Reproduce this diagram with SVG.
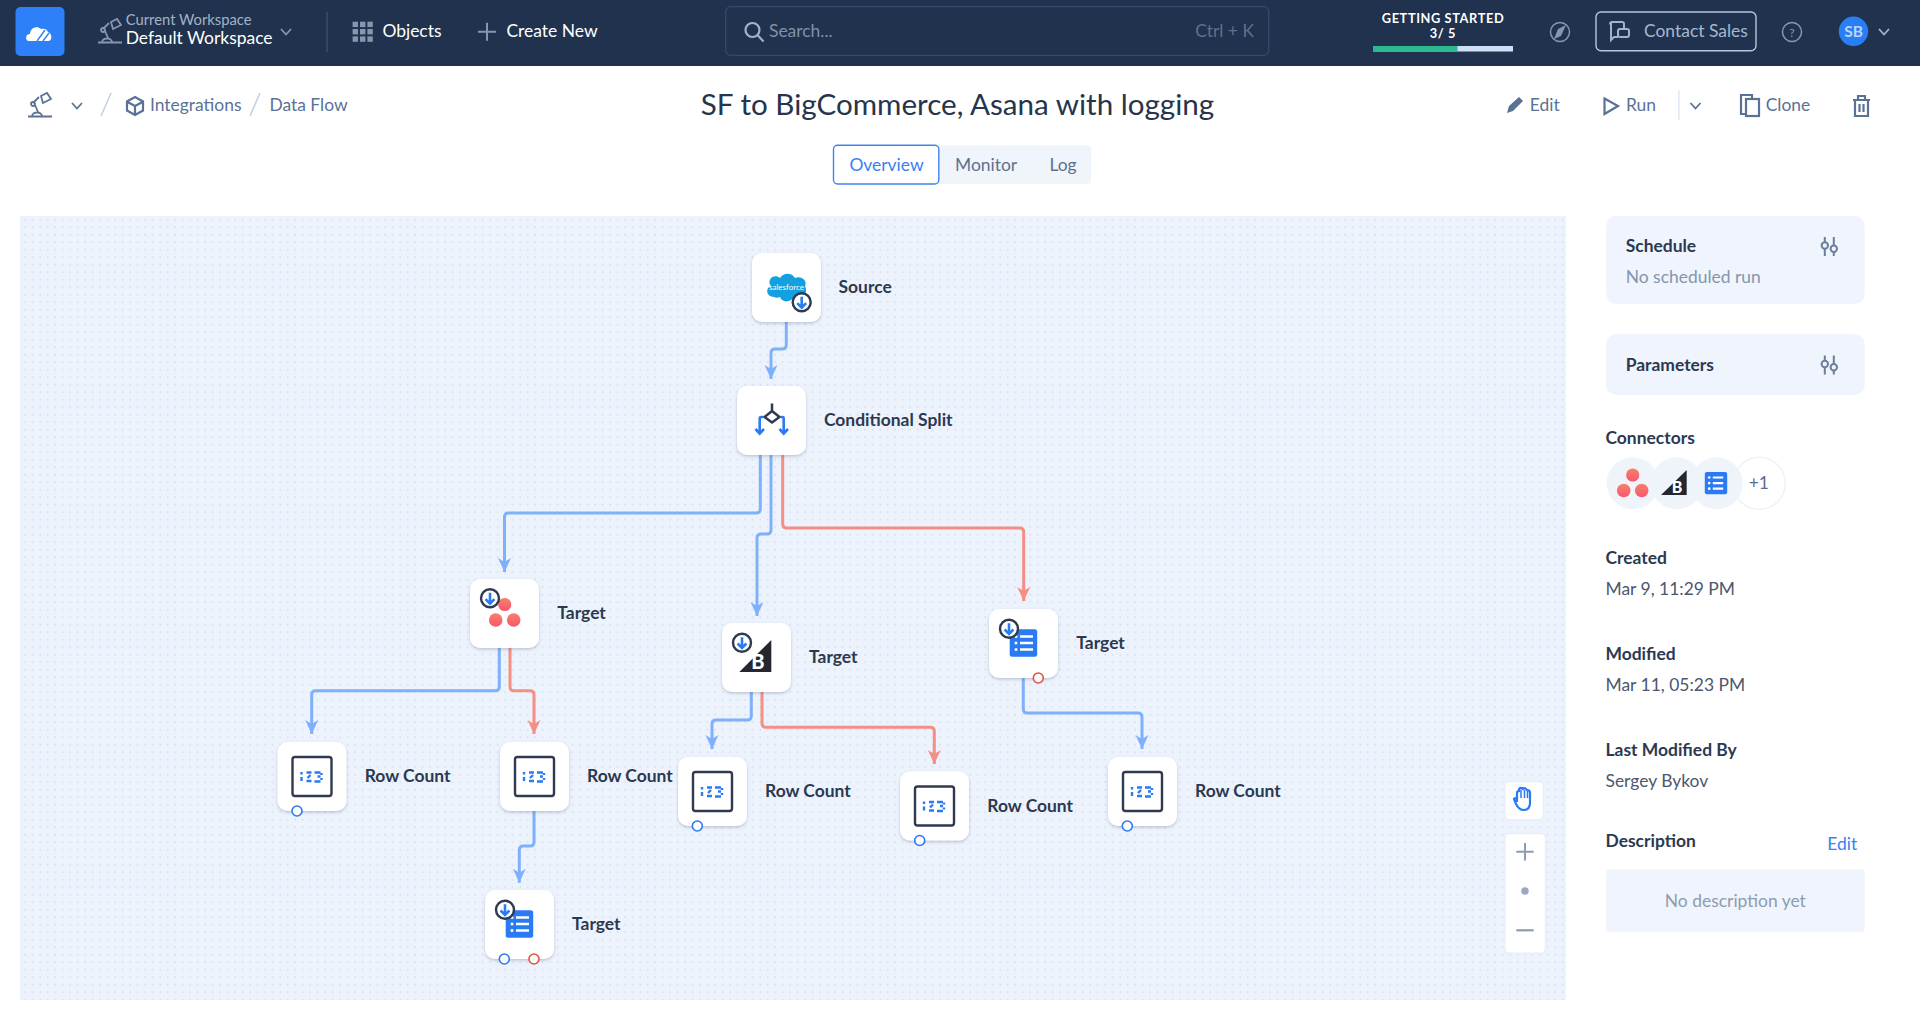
<svg xmlns="http://www.w3.org/2000/svg" xmlns:xlink="http://www.w3.org/1999/xlink" width="1920" height="1009" viewBox="0 0 1920 1009">
<style>
text{font-family:Lato,"Noto Sans","Liberation Sans",sans-serif;font-size:17.45px}
.lab{fill:#2b3950;font-weight:700;font-size:17.45px}
.head{fill:#2b3950;font-weight:700;font-size:17.45px}
.val{fill:#4a5870;font-size:17.45px}
.nav{fill:#ffffff}
.crumb{fill:#5a7296}
.card{fill:#fff;filter:url(#sh)}
.wire{fill:none;stroke-width:3;stroke-linejoin:round}
.b{stroke:#7fb0fb;marker-end:url(#ab)}
.r{stroke:#f58e85;marker-end:url(#ar)}
.pb{fill:#fff;stroke:#2a7af3;stroke-width:1.6}
.pr{fill:#fff;stroke:#e2533f;stroke-width:1.6}
.ic{fill:none;stroke:#5a7296;stroke-width:2.2}
.icn{fill:none;stroke:#8796ad;stroke-width:2.2}
.panel{fill:#eff4fd}
</style>
<defs>
<pattern id="dots" width="7.5" height="7.5" patternUnits="userSpaceOnUse" x="23" y="216"><rect x="1.5" y="3" width="1.3" height="1.3" fill="#c8d2e2"/></pattern>
<filter id="sh" x="-20%" y="-20%" width="140%" height="140%"><feDropShadow dx="0" dy="1.5" stdDeviation="1.6" flood-color="#5a6b85" flood-opacity="0.35"/></filter>
<marker id="ab" markerUnits="userSpaceOnUse" markerWidth="15" markerHeight="14" refX="14" refY="7" orient="auto"><path d="M0,0.5 L14,7 L0,13.5 L4,7Z" fill="#7fb0fb"/></marker>
<marker id="ar" markerUnits="userSpaceOnUse" markerWidth="15" markerHeight="14" refX="14" refY="7" orient="auto"><path d="M0,0.5 L14,7 L0,13.5 L4,7Z" fill="#f58e85"/></marker>
<linearGradient id="as" x1="0" y1="1" x2="0" y2="0"><stop offset="0" stop-color="#f9566c"/><stop offset="1" stop-color="#f8806c"/></linearGradient>
<g id="badge"><circle r="9" fill="#fff" stroke="#2e3a50" stroke-width="2.4"/><path d="M0,-5.5V5M-4.4,0.8L0,5.3L4.4,0.8" fill="none" stroke="#2a7af3" stroke-width="2.6"/></g>
<g id="count"><rect x="15" y="15" width="39" height="39" rx="2.5" fill="#fff" stroke="#2e3a50" stroke-width="2.4"/><path d="M24,30v2.5M24,35v4M29,30.5h5M33,33l-3,3M29,39h5M37,30.5h6M40,34.5h3M37,39.5h6M44,31v2M44,36v2" fill="none" stroke="#2a7af3" stroke-width="2.4"/></g>
<g id="sheets"><rect x="20.7" y="20.3" width="27.5" height="27.5" rx="2.5" fill="#2a7af3"/><path d="M31,27.5h13M31,34h13M31,40.5h13" stroke="#fff" stroke-width="2.6"/><circle cx="27" cy="27.5" r="1.5" fill="#fff"/><circle cx="27" cy="34" r="1.5" fill="#fff"/><circle cx="27" cy="40.5" r="1.5" fill="#fff"/></g>
<g id="asana"><circle cx="0" cy="-8" r="6.6" fill="url(#as)"/><circle cx="-9" cy="7.5" r="6.8" fill="url(#as)"/><circle cx="9" cy="7.5" r="6.8" fill="url(#as)"/></g>
<path id="chev" d="M-5,-3L0,2.5L5,-3" fill="none" stroke-width="1.8"/>
<path id="sliders" d="M-4.5,-9.5V-4M-4.5,2.5V9.5M4.5,-9.5V-1M4.5,5.5V9.5" fill="none" stroke="#6c7f9a" stroke-width="2"/>
<g id="sl"><use href="#sliders"/><circle cx="-4.5" cy="-1" r="3.2" fill="none" stroke="#6c7f9a" stroke-width="2"/><circle cx="4.5" cy="2.2" r="3.2" fill="none" stroke="#6c7f9a" stroke-width="2"/></g>
<g id="lamp" fill="none" stroke-width="1.8"><path d="M0,23.5H24M4,23.5c0,-3 3,-4 5,-4s5,1 5,4M7,12L10,19M5,10L11,4M13,3L19,0L23,6L15,10Z"/><circle cx="5" cy="11" r="2"/></g>
</defs>

<rect id="page" width="1920" height="1009" fill="#fff"/>
<g id="topbar">
<rect width="1920" height="66" fill="#20324d"/>
<rect x="15.5" y="7" width="49" height="49" rx="5" fill="#2d80f8"/>
<path d="M29,41c-4,0 -4,-7 1,-7c0,-6 7,-9 11,-5c3,-1 6,0 7,3c4,1 5,9 0,9Z" fill="#fff"/>
<path d="M37,41L45,30M43,41L49,33" stroke="#2d80f8" stroke-width="1.4"/>
<use href="#lamp" x="98" y="19" stroke="#8796ad"/>
<text x="125.7" y="25" fill="#a3b3c9" style="font-size:14.8px">Current Workspace</text>
<text x="125.7" y="44" class="nav">Default Workspace</text>
<use href="#chev" x="286" y="32" stroke="#8796ad"/>
<rect x="326.5" y="12" width="1.2" height="40" fill="#3f5270"/>
<g fill="#8796ad"><rect x="352.6" y="21.7" width="5.4" height="5.4"/><rect x="360" y="21.7" width="5.4" height="5.4"/><rect x="367.4" y="21.7" width="5.4" height="5.4"/><rect x="352.6" y="29" width="5.4" height="5.4"/><rect x="360" y="29" width="5.4" height="5.4"/><rect x="367.4" y="29" width="5.4" height="5.4"/><rect x="352.6" y="36.4" width="5.4" height="5.4"/><rect x="360" y="36.4" width="5.4" height="5.4"/><rect x="367.4" y="36.4" width="5.4" height="5.4"/></g>
<text x="382.4" y="36.7" class="nav">Objects</text>
<path d="M478,31.7H496M487,22.7V40.7" stroke="#8796ad" stroke-width="2"/>
<text x="506.5" y="36.7" class="nav">Create New</text>
<rect x="725.7" y="6.7" width="543" height="48.6" rx="5" fill="none" stroke="#36496a" stroke-width="1.3"/>
<circle cx="752.5" cy="30" r="7" fill="none" stroke="#a3b3c9" stroke-width="2.2"/><path d="M757.5,35L763.5,41.5" stroke="#a3b3c9" stroke-width="2.2"/>
<text x="769" y="36.7" fill="#7f90a8">Search...</text>
<text x="1254" y="36.7" fill="#5e708c" text-anchor="end">Ctrl + K</text>
<text x="1443" y="23" fill="#fff" text-anchor="middle" font-weight="700" style="font-size:12.8px;letter-spacing:.6px">GETTING STARTED</text>
<text x="1443" y="38" fill="#fff" text-anchor="middle" font-weight="700" style="font-size:12.8px;letter-spacing:.6px">3/ 5</text>
<rect x="1373" y="46" width="140" height="5.5" fill="#cfe0f6"/><rect x="1373" y="46" width="84.5" height="5.5" fill="#2eb88f"/>
<circle cx="1560" cy="32" r="9.5" fill="none" stroke="#8796ad" stroke-width="1.5"/><path d="M1566,25L1561,36L1554,39L1558,29Z" fill="#8796ad"/>
<rect x="1596" y="12" width="160" height="38.7" rx="5" fill="none" stroke="#b5c6de" stroke-width="1.4"/>
<path d="M1611,22H1622Q1624,22 1624,24V28M1618,37H1614L1611,40V24Q1609,24 1611,22" fill="none" stroke="#a3b3c9" stroke-width="2"/><rect x="1618" y="29" width="11" height="8" rx="2" fill="none" stroke="#a3b3c9" stroke-width="2"/>
<text x="1644" y="36.7" fill="#a6b8d0">Contact Sales</text>
<circle cx="1792" cy="32" r="9.5" fill="none" stroke="#8796ad" stroke-width="1.5"/><text x="1792" y="36.5" fill="#8796ad" text-anchor="middle" style="font-size:12px">?</text>
<circle cx="1853.5" cy="31.3" r="14.7" fill="#2a7ef5"/><text x="1853.5" y="37" fill="#b9d5fb" text-anchor="middle" font-weight="700" style="font-size:15.5px">SB</text>
<use href="#chev" x="1884" y="32" stroke="#a3b3c9"/>
</g>

<g id="breadcrumb">
<use href="#lamp" x="28" y="93" stroke="#5a7296"/>
<use href="#chev" x="77" y="106" stroke="#5a7296"/>
<path d="M111,93L101,116M260,93L250,116" stroke="#c5d0e2" stroke-width="1.6"/>
<path d="M135,97L143,101.5V110.5L135,115L127,110.5V101.5ZM127.5,102L135,106L142.5,102M135,106V114" class="ic"/>
<text x="150" y="111" class="crumb">Integrations</text>
<text x="269.4" y="111" class="crumb">Data Flow</text>
</g>
<text id="title" x="957.5" y="115" fill="#26344c" text-anchor="middle" style="font-size:29.6px">SF to BigCommerce, Asana with logging</text>

<g id="actions">
<path d="M1507,113L1509,106L1519,97L1523,101L1513,111Z" fill="#5a7296"/>
<text x="1529.8" y="111" class="crumb">Edit</text>
<path d="M1604.5,98.5L1618,106L1604.5,114Z" class="ic" stroke-width="2.6"/>
<text x="1626" y="111" class="crumb">Run</text>
<rect x="1678.3" y="90" width="1.2" height="30" fill="#d8e3f2"/>
<use href="#chev" x="1695.5" y="106" stroke="#5a7296"/>
<path d="M1746,114H1741V95H1752V99" class="ic"/><rect x="1746" y="99" width="13" height="17" class="ic"/>
<text x="1765.7" y="111" class="crumb">Clone</text>
<path d="M1853,100H1870M1858,100V96H1865V100M1855,100V116H1868V100M1859.5,104V112M1863.5,104V112" class="ic"/>
</g>

<g id="tabs">
<rect x="833.5" y="145.3" width="257.5" height="38.7" rx="4" fill="#f0f4fb"/>
<rect x="833.5" y="145.3" width="105.3" height="38.7" rx="4" fill="#fff" stroke="#3f85f0" stroke-width="1.4"/>
<text x="849.4" y="170.5" fill="#3a80ee">Overview</text>
<text x="955" y="170.5" fill="#5d7190">Monitor</text>
<text x="1049.4" y="170.5" fill="#5d7190">Log</text>
</g>

<g id="canvas"><rect x="20" y="216" width="1546" height="784" fill="#edf3fd"/><rect x="20" y="216" width="1546" height="784" fill="url(#dots)"/></g>

<g id="connectors">
<path class="wire b" d="M786.3,322V345Q786.3,349 782,349H775Q771,349 771,353V379"/>
<path class="wire b" d="M760.3,455V509Q760.3,513 756,513H508.5Q504.5,513 504.5,517V572"/>
<path class="wire b" d="M771,455V530Q771,534 767,534H761Q757,534 757,538V616"/>
<path class="wire r" d="M782.7,455V524Q782.7,528 787,528H1019.7Q1023.7,528 1023.7,532V601"/>
<path class="wire b" d="M499.3,648V686.7Q499.3,690.7 495,690.7H315.7Q311.7,690.7 311.7,694.7V734"/>
<path class="wire r" d="M510,648V686.7Q510,690.7 514,690.7H530Q534,690.7 534,694.7V734"/>
<path class="wire b" d="M534,810.7V842Q534,846 530,846H523.3Q519.3,846 519.3,850V882.7"/>
<path class="wire b" d="M751.3,692V716Q751.3,720 747,720H716Q712,720 712,724V749"/>
<path class="wire r" d="M762,692V723.3Q762,727.3 766,727.3H930.3Q934.3,727.3 934.3,731.3V764"/>
<path class="wire b" d="M1023.3,678V709Q1023.3,713 1027.3,713H1138Q1142,713 1142,717V749"/>
</g>

<g id="node-source" transform="translate(752,253)">
<rect class="card" width="69" height="69" rx="10"/>
<path d="M22,44C14,44 13,35 19,33C14,27 22,20 28,25C32,19 40,20 43,25C49,22 56,28 53,33C57,41 49,47 43,43C39,50 30,50 28,44C26,45 24,45 22,44Z" fill="#12a0e0"/>
<text x="34.5" y="37" fill="#fff" text-anchor="middle" style="font-size:8px">salesforce</text>
<use href="#badge" x="49.7" y="49.3"/>
<text x="86.5" y="39.7" class="lab">Source</text>
</g>
<g id="node-split" transform="translate(737,386)">
<rect class="card" width="69" height="69" rx="10"/>
<path d="M35,17.5V25M35,25L42.5,31L35,36.5L27.5,31Z" fill="none" stroke="#2e3a50" stroke-width="2.5"/>
<path d="M26,31H24Q22.7,31 22.7,33V47M18.5,43L22.7,47.5L27,43M44,31H45.5Q46.7,31 46.7,33V47M42.5,43L46.7,47.5L51,43" fill="none" stroke="#2a7af3" stroke-width="2.6"/>
<text x="87" y="40" class="lab">Conditional Split</text>
</g>
<g id="node-target-asana" transform="translate(470,579)">
<rect class="card" width="69" height="69" rx="10"/>
<use href="#asana" x="34.7" y="33.5"/><use href="#badge" x="20" y="19.3"/>
<text x="87.3" y="40" class="lab">Target</text>
</g>
<g id="node-target-bigcommerce" transform="translate(722,623)">
<rect class="card" width="69" height="69" rx="10"/>
<path d="M17.3,49L49.3,17V49Z" fill="#26262e"/>
<text x="36" y="46" fill="#fff" text-anchor="middle" font-weight="900" style="font-size:20px">B</text>
<use href="#badge" x="20" y="19.7"/>
<text x="87" y="40.3" class="lab">Target</text>
</g>
<g id="node-target-sheets" transform="translate(989,609)">
<rect class="card" width="69" height="69" rx="10"/>
<use href="#sheets"/><use href="#badge" x="20" y="19.7"/>
<circle class="pr" cx="49.3" cy="69" r="5"/>
<text x="87.3" y="39.7" class="lab">Target</text>
</g>
<g id="node-count-1" transform="translate(277.5,742)">
<rect class="card" width="69" height="69" rx="10"/><use href="#count"/>
<circle class="pb" cx="19.5" cy="69" r="5"/>
<text x="87.2" y="40" class="lab">Row Count</text>
</g>
<g id="node-count-2" transform="translate(500,742)">
<rect class="card" width="69" height="69" rx="10"/><use href="#count"/>
<text x="87" y="40" class="lab">Row Count</text>
</g>
<g id="node-count-3" transform="translate(678,757)">
<rect class="card" width="69" height="69" rx="10"/><use href="#count"/>
<circle class="pb" cx="19.3" cy="69" r="5"/>
<text x="87" y="39.7" class="lab">Row Count</text>
</g>
<g id="node-count-4" transform="translate(900,771.5)">
<rect class="card" width="69" height="69" rx="10"/><use href="#count"/>
<circle class="pb" cx="19.7" cy="69" r="5"/>
<text x="87.3" y="40" class="lab">Row Count</text>
</g>
<g id="node-count-5" transform="translate(1108,757)">
<rect class="card" width="69" height="69" rx="10"/><use href="#count"/>
<circle class="pb" cx="19.3" cy="69" r="5"/>
<text x="87" y="39.7" class="lab">Row Count</text>
</g>
<g id="node-target-log" transform="translate(485,890)">
<rect class="card" width="69" height="69" rx="10"/>
<use href="#sheets"/><use href="#badge" x="20" y="19.7"/>
<circle class="pb" cx="19.3" cy="69" r="5"/><circle class="pr" cx="49" cy="69" r="5"/>
<text x="87" y="40.3" class="lab">Target</text>
</g>

<g id="zoom-tools">
<rect x="1505" y="781.7" width="38.3" height="38" rx="4" fill="#fff" stroke="#e6ecf5"/>
<path d="M1517,802V793Q1517,791 1519,791V789Q1521,787 1523,789Q1525,787 1527,790Q1530,790 1530,793V803Q1530,810 1523.5,810Q1519,810 1516,804L1514,799Q1516,797 1517,800" fill="none" stroke="#2a7af3" stroke-width="2.2"/>
<path d="M1521,790V798M1524.5,790V798M1527.5,791V798" stroke="#2a7af3" stroke-width="1.5"/>
<rect x="1505" y="833.7" width="40.3" height="119.3" rx="4" fill="#fff" stroke="#e6ecf5"/>
<path d="M1516.3,851.7H1533.7M1525,843V860.4" stroke="#8d9cb2" stroke-width="2"/>
<circle cx="1525" cy="891" r="3.7" fill="#9aa9c0"/>
<path d="M1516.3,930.3H1533.7" stroke="#8d9cb2" stroke-width="2.2"/>
</g>

<g id="sidebar">
<rect class="panel" x="1606" y="216" width="258.7" height="88" rx="10"/>
<text x="1625.7" y="251.7" class="head">Schedule</text>
<use href="#sl" x="1829.3" y="246.5"/>
<text x="1625.7" y="282.7" fill="#8496ad">No scheduled run</text>
<rect class="panel" x="1606" y="334" width="258.7" height="61" rx="10"/>
<text x="1625.7" y="370.7" class="head">Parameters</text>
<use href="#sl" x="1829.3" y="365"/>
<text x="1605.5" y="444" class="head">Connectors</text>
<circle cx="1759.3" cy="483.3" r="26" fill="#fff" stroke="#eef1f6" stroke-width="1.4"/>
<text x="1748.7" y="488.7" fill="#5a6f8f">+1</text>
<circle cx="1716.7" cy="483.3" r="26" fill="#eff3fa"/>
<g transform="translate(1700,466.3) scale(.8)"><rect x="6" y="7" width="28" height="28" rx="2.5" fill="#2a7af3"/><path d="M16,14h13M16,21h13M16,28h13" stroke="#fff" stroke-width="2.8"/><circle cx="11.5" cy="14" r="1.7" fill="#fff"/><circle cx="11.5" cy="21" r="1.7" fill="#fff"/><circle cx="11.5" cy="28" r="1.7" fill="#fff"/></g>
<circle cx="1676.7" cy="483.3" r="26" fill="#eff3fa"/>
<path d="M1661,495L1686.7,470V495Z" fill="#26262e"/><text x="1677" y="493" fill="#fff" text-anchor="middle" font-weight="900" style="font-size:16px">B</text>
<circle cx="1632.7" cy="483.3" r="26" fill="#eff3fa"/>
<use href="#asana" x="1632.7" y="483"/>
<text x="1605.5" y="563.7" class="head">Created</text>
<text x="1605.5" y="594.7" class="val">Mar 9, 11:29 PM</text>
<text x="1605.5" y="660" class="head">Modified</text>
<text x="1605.5" y="690.7" class="val">Mar 11, 05:23 PM</text>
<text x="1605.5" y="756.3" class="head">Last Modified By</text>
<text x="1605.5" y="787.3" class="val">Sergey Bykov</text>
<text x="1605.5" y="847.3" class="head">Description</text>
<text x="1827.3" y="850" fill="#3a80ee">Edit</text>
<rect class="panel" x="1606" y="869.3" width="258.7" height="63" rx="4"/>
<text x="1735.3" y="906.7" fill="#8d9cb2" text-anchor="middle">No description yet</text>
</g>
</svg>
